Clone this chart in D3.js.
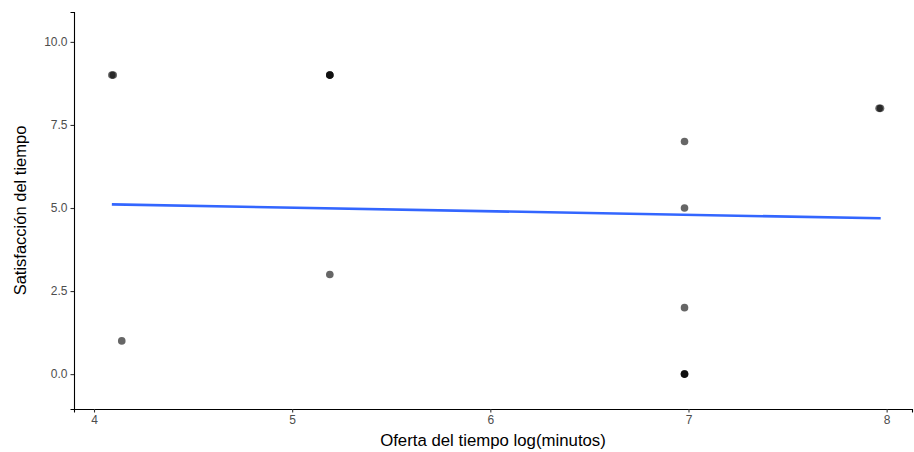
<!DOCTYPE html>
<html>
<head>
<meta charset="utf-8">
<script src="https://cdn.jsdelivr.net/npm/d3@7"></script>
<style>
  body { margin: 0; background: #fff; }
  svg text { font-family: "Liberation Sans", Arial, sans-serif; }
</style>
</head>
<body>
<div id="chart"></div>
<script>
// points (duplicates overlap, as in the original)
const ofertaLog = [4.09, 4.097, 4.14, 5.19, 5.19, 5.19, 5.19, 6.98, 6.98, 6.98, 6.98, 6.98, 6.98, 7.962, 7.969];
const satisfaccion = [9, 9, 1, 9, 9, 9, 3, 7, 5, 2, 0, 0, 0, 8, 8];
// fitted line endpoints
const fitX = [4.09, 7.97];
const fitY = [5.11, 4.69];
const xTicks = [4, 5, 6, 7, 8];
const yTicks = [0, 2.5, 5, 7.5, 10];

const width = 914;
const height = 452;
const margin = { top: 12, right: 2, bottom: 43, left: 74 };

const svg = d3.select('#chart')
  .append('svg')
  .attr('width', width)
  .attr('height', height);

const x = d3.scaleLinear()
  .domain([3.899, 8.128])
  .range([margin.left, width - margin.right]);

const y = d3.scaleLinear()
  .domain([-1.05, 10.9])
  .range([height - margin.bottom, margin.top]);

// x axis
const xAxis = svg.append('g')
  .attr('transform', `translate(0,${height - margin.bottom})`)
  .call(d3.axisBottom(x).tickValues(xTicks).tickSize(3.5).tickPadding(3).tickFormat(d3.format('d')));

// y axis
const yAxis = svg.append('g')
  .attr('transform', `translate(${margin.left},0)`)
  .call(d3.axisLeft(y).tickValues(yTicks).tickSize(3.5).tickPadding(3).tickFormat(d3.format('.1f')));

[xAxis, yAxis].forEach((ax) => {
  ax.select('.domain').attr('stroke', '#000').attr('stroke-width', 1.1);
  ax.selectAll('.tick line').attr('stroke', '#333').attr('stroke-width', 1.1);
  ax.selectAll('.tick text').attr('fill', '#4d4d4d').style('font-size', '12px');
});

// points
svg.append('g')
  .selectAll('circle')
  .data(ofertaLog.map((d, i) => ({ x: d, y: satisfaccion[i] })))
  .enter()
  .append('circle')
  .attr('cx', (d) => x(d.x))
  .attr('cy', (d) => y(d.y))
  .attr('r', 3.8)
  .attr('fill', '#000')
  .attr('fill-opacity', 0.6);

// regression line
svg.append('path')
  .datum(fitX.map((d, i) => [d, fitY[i]]))
  .attr('fill', 'none')
  .attr('stroke', '#3366FF')
  .attr('stroke-width', 2.6)
  .attr('d', d3.line().x((d) => x(d[0])).y((d) => y(d[1])));

// axis titles
svg.append('text')
  .attr('x', (margin.left + width - margin.right) / 2)
  .attr('y', 446)
  .attr('text-anchor', 'middle')
  .style('font-size', '16.8px')
  .text('Oferta del tiempo log(minutos)');

svg.append('text')
  .attr('transform', `translate(26,${(margin.top + height - margin.bottom) / 2}) rotate(-90)`)
  .attr('text-anchor', 'middle')
  .style('font-size', '16.5px')
  .text('Satisfacción del tiempo');
</script>
</body>
</html>
